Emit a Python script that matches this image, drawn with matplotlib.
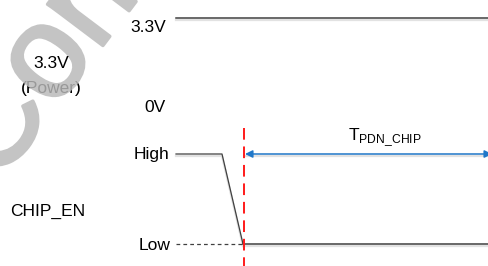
import matplotlib.pyplot as plt
import matplotlib.patheffects as pe

plt.rcParams['font.family'] = ['Liberation Sans', 'DejaVu Sans']
plt.rcParams['mathtext.fontset'] = 'custom'
plt.rcParams['mathtext.rm'] = 'Liberation Sans'

# ── waveform data (x = time in px of the drawing, y = signal level) ──────────
power_t   = [176, 488]
power_lvl = ['3.3V', '3.3V']

en_t   = [176, 222, 243, 488]
en_lvl = ['High', 'High', 'Low', 'Low']

level_y = {'3.3V': 18, '0V': 108, 'High': 154, 'Low': 244}
t_event = 244
t_end   = 488

LINE = '#404040'
SHADOW = '#e2e2e2'
WM = '#c4c4c4'

fig = plt.figure(figsize=(4.88, 2.66), dpi=100)
ax = fig.add_axes([0, 0, 1, 1])
ax.set_xlim(0, 488)
ax.set_ylim(266, 0)
ax.axis('off')

def trace(t, lv, **kw):
    ys = [level_y[v] for v in lv]
    ax.plot(t, [y + 2 for y in ys], color=SHADOW, lw=1.6, zorder=1)
    ax.plot(t, ys, color=LINE, **kw, zorder=2)

# power rail
trace(power_t, power_lvl, lw=1.1)

# CHIP_EN: dashed reference for "Low" then falling edge
ax.plot([176, t_event], [level_y['Low']] * 2, color=LINE, lw=0.9, ls=(0, (3, 2.5)))
trace(en_t[:3], en_lvl[:3], lw=0.9)
trace(en_t[2:], en_lvl[2:], lw=1.1)

# event marker
ax.plot([t_event, t_event], [128, 266], color='#ff1a1a', lw=1.4, ls=(0, (6, 3.5)), zorder=3)

# T_PDN_CHIP arrow
ax.plot([t_event + 2, t_end], [level_y['High'] + 2] * 2, color=SHADOW, lw=1.6, zorder=1)
ax.annotate('', xy=(t_event + 1, level_y['High']), xytext=(t_end + 4, level_y['High']),
            arrowprops=dict(arrowstyle='<|-|>', color='#1f77c8', lw=1.1,
                            mutation_scale=11, shrinkA=0, shrinkB=0), zorder=3)
ax.text(385, 138, r'T$_{\mathregular{PDN\_CHIP}}$', fontsize=12.5,
        ha='center', va='center')

# labels
fs = 12.5
ax.text(166, 27, '3.3V', fontsize=fs, ha='right', va='center')
ax.text(166, 108, '0V', fontsize=fs, ha='right', va='center')
ax.text(169, 155, 'High', fontsize=fs, ha='right', va='center')
ax.text(171, 246, 'Low', fontsize=fs, ha='right', va='center')
ax.text(51, 63, '3.3V', fontsize=fs, ha='center', va='center', zorder=6)
ax.text(51, 88, '(Power)', fontsize=fs, ha='center', va='center')
ax.text(51, 88, '(Power)', fontsize=fs, ha='center', va='center',
        color='black', alpha=0.22, zorder=6)
ax.text(10, 211, 'CHIP_EN', fontsize=fs, ha='left', va='center')

# watermark
ax.text(-3, 186, 'Confidential', fontsize=94, color=WM,
        rotation=53, rotation_mode='anchor', ha='left', va='baseline',
        zorder=5, clip_on=True,
        path_effects=[pe.withStroke(linewidth=2.5, foreground=WM)])

fig.savefig('out.png', dpi=100)
